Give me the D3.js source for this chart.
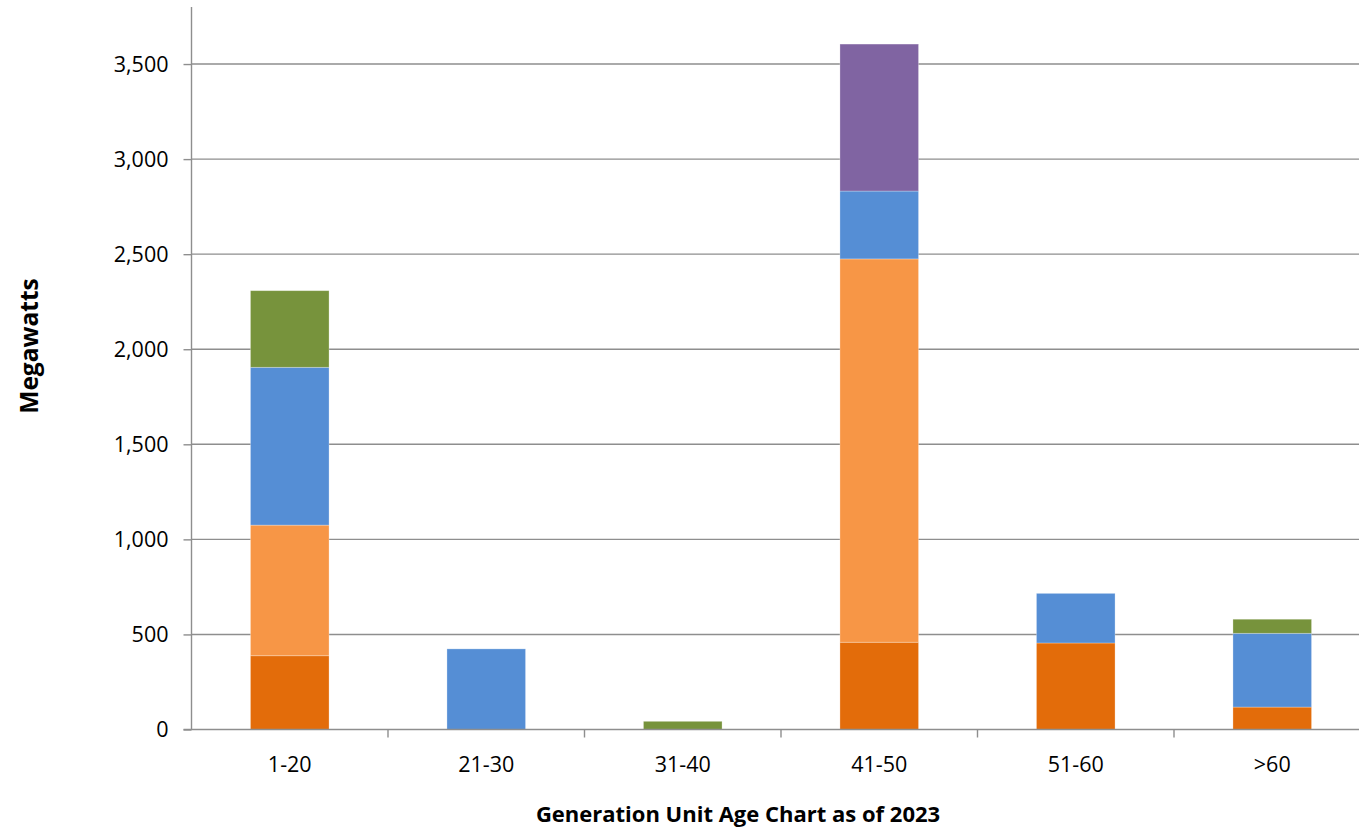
<!DOCTYPE html>
<html><head><meta charset="utf-8">
<script src="https://cdn.jsdelivr.net/npm/d3@7/dist/d3.min.js"></script>
<style>html,body{margin:0;padding:0;background:#fff;overflow:hidden}svg{display:block}</style>
</head><body>
<svg id="c" width="1359" height="827"></svg>
<script>
const categories = ["1-20","21-30","31-40","41-50","51-60",">60"];
const seriesNames = ["Series 1","Series 2","Series 3","Series 4","Series 5"];
const series1 = [388, 0, 0, 459, 455, 118];
const series2 = [687, 0, 0, 2016, 0, 0];
const series3 = [830, 424, 0, 357, 261, 388];
const series4 = [403, 0, 43, 0, 0, 74];
const series5 = [0, 0, 0, 773, 0, 0];
const colors = ["#E36C0A","#F79646","#558ED5","#77933C","#8064A2"];
const yTicks = [0,500,1000,1500,2000,2500,3000,3500];
const xTitle = "Generation Unit Age Chart as of 2023";
const yTitle = "Megawatts";

const allSeries = [series1,series2,series3,series4,series5];
const table = categories.map((c,i)=>{
  const o={cat:c}; seriesNames.forEach((s,j)=>o[s]=allSeries[j][i]); return o;
});
const stack = d3.stack().keys(seriesNames)(table);

const svg = d3.select("#c");
const font = "'Open Sans', sans-serif";
const x = d3.scaleBand().domain(categories).range([191.5, 1370.5]).paddingInner(0.6).paddingOuter(0.3);
const y = d3.scaleLinear().domain([0,3800]).range([729.5,7]);
const x0 = 191.5, step = x.step();

// gridlines
svg.append("g").selectAll("line").data(yTicks.filter(d=>d>0)).join("line")
  .attr("x1",x0).attr("x2",1370).attr("y1",d=>y(d)).attr("y2",d=>y(d))
  .attr("stroke","#8e8e8e").attr("stroke-width",1.4);

// bars
svg.append("g").selectAll("g").data(stack).join("g").attr("fill",(d,i)=>colors[i])
  .selectAll("rect").data(d=>d.filter(v=>v[1]-v[0]>0)).join("rect")
  .attr("x",d=>x(d.data.cat)).attr("width",x.bandwidth())
  .attr("y",d=>y(d[1])).attr("height",d=>y(d[0])-y(d[1]))
  .attr("stroke","rgba(255,255,255,0.35)").attr("stroke-width",0.8);

// y axis
const yAxis = d3.axisLeft(y).tickValues(yTicks).tickSize(8).tickPadding(15).tickFormat(d3.format(","));
const gy = svg.append("g").attr("transform",`translate(${x0},0)`).call(yAxis);
gy.select(".domain").attr("stroke","#8e8e8e").attr("stroke-width",1.4).attr("d",`M0,${y(3800)}V${y(0)}`);
gy.selectAll(".tick line").attr("stroke","#8e8e8e").attr("stroke-width",1.4);
gy.selectAll(".tick text").attr("font-family",font).attr("font-size",21.5).attr("fill","#000").attr("dy","0.34em");

// x axis
svg.append("line").attr("x1",x0-8).attr("x2",1370).attr("y1",y(0)).attr("y2",y(0))
  .attr("stroke","#8e8e8e").attr("stroke-width",1.4);
svg.append("g").selectAll("line").data(d3.range(1,categories.length+1)).join("line")
  .attr("x1",i=>x0+i*step).attr("x2",i=>x0+i*step).attr("y1",y(0)).attr("y2",y(0)+8)
  .attr("stroke","#8e8e8e").attr("stroke-width",1.4);
svg.append("g").selectAll("text").data(categories).join("text")
  .attr("x",d=>x(d)+x.bandwidth()/2).attr("y",772).attr("text-anchor","middle")
  .attr("font-family",font).attr("font-size",21.5).attr("fill","#000").text(d=>d);

// titles
svg.append("text").attr("x",738).attr("y",822).attr("text-anchor","middle")
  .attr("font-family",font).attr("font-size",22).attr("font-weight","bold").text(xTitle);
svg.append("text").attr("transform","translate(38,346) rotate(-90)").attr("text-anchor","middle")
  .attr("font-family",font).attr("font-size",24.5).attr("font-weight","bold").text(yTitle);
</script>
</body></html>
